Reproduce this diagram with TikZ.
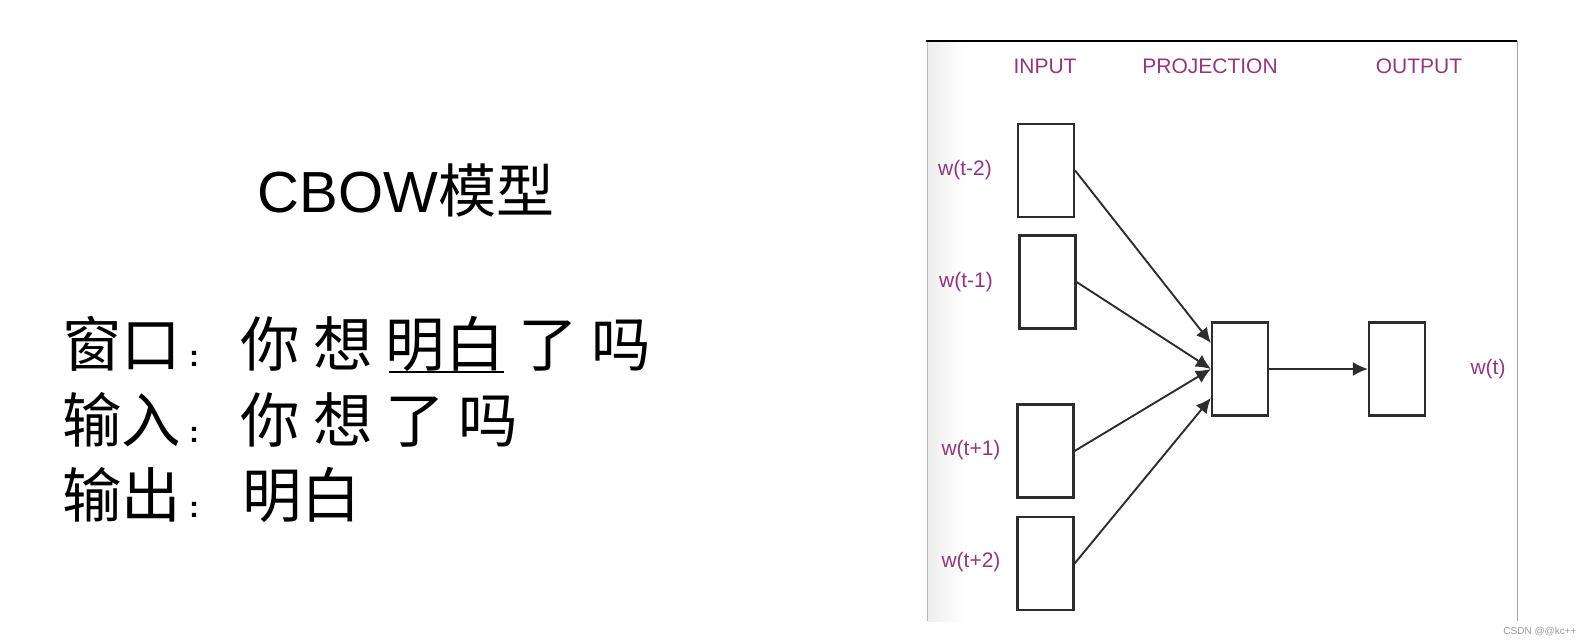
\documentclass[tikz,border=0pt]{standalone}
\usepackage{fontspec}
\setmainfont{Liberation Sans}
\newfontfamily\cjk{Noto Sans CJK SC}
\usetikzlibrary{arrows.meta}
\definecolor{lblpurple}{RGB}{145,55,125}
\definecolor{boxgray}{RGB}{45,45,45}
\newcommand{\smcolon}{\makebox[59pt][l]{\hspace{8pt}\fontspec{Liberation Sans}\bfseries\fontsize{30}{34}\selectfont :}}
\tikzset{
  unitbox/.style={draw=boxgray, line width=2.2pt, minimum width=56pt, minimum height=93pt, inner sep=0pt},
  lbl/.style={text=lblpurple, font=\fontsize{21}{24}\selectfont, inner sep=0pt},
  conn/.style={draw=boxgray, line width=1.9pt, -{Latex[length=15pt,width=14pt]}},
  bigtext/.style={font=\cjk\fontsize{59.5}{70}\selectfont, inner sep=0pt, anchor=base west},
}
\begin{document}
\begin{tikzpicture}[x=1pt,y=-1pt]
\useasboundingbox (0,0) rectangle (1592,644);
% panel
\shade[left color=gray!14, right color=white] (927,42) rectangle (965,621);
\draw[gray!55, line width=1pt] (927,41) -- (927,621);
\draw[gray!70, line width=1pt] (1517,41) -- (1517,621);
\draw[black, line width=2pt] (926,41) -- (1517,41);
% headers
\node[lbl] (hin) at (1045,66) {INPUT};
\node[lbl] (hproj) at (1210,66) {PROJECTION};
\node[lbl] (hout) at (1419,66) {OUTPUT};
% boxes
\node[unitbox] (b1) at (1046,170.5) {};
\node[unitbox] (b2) at (1047.5,282) {};
\node[unitbox] (b3) at (1045.5,451) {};
\node[unitbox] (b4) at (1045.5,563.5) {};
\node[unitbox] (proj) at (1240,369) {};
\node[unitbox] (out) at (1397,369) {};
% labels
\node[lbl] (l1) at (965,170) {w(t-2)};
\node[lbl] (l2) at (966,282) {w(t-1)};
\node[lbl] (l3) at (971,450) {w(t+1)};
\node[lbl] (l4) at (971,562) {w(t+2)};
\node[lbl] (lo) at (1488,369) {w(t)};
% connectors
\coordinate (p1) at ([yshift=26pt]proj.west);
\coordinate (p4) at ([yshift=-29pt]proj.west);
\draw[conn] (b1.east) -- (p1);
\draw[conn] (b2.east) -- (proj.west);
\draw[conn] (b3.east) -- (proj.west);
\draw[conn] (b4.east) -- (p4);
\draw[conn] (proj.east) -- (out.west);
% watermark
\node[text=gray!80, font=\fontsize{10}{12}\selectfont, inner sep=0pt] (wm) at (1540,632) {CSDN @@kc++};
% left text
\node[font=\fontsize{58}{70}\selectfont, inner sep=0pt, anchor=base] (title) at (406,213) {CBOW{\cjk 模型}};
\node[bigtext] (line1) at (62,366) {窗口\smcolon 你 想 明白 了 吗};
\node[bigtext] (line2) at (62,442) {输入\smcolon 你 想 了 吗};
\node[bigtext] (line3) at (62,517) {输出\smcolon\hspace{2pt}明白};
\draw[line width=1.5pt] (389,372) -- (504,372);
\end{tikzpicture}
\end{document}
